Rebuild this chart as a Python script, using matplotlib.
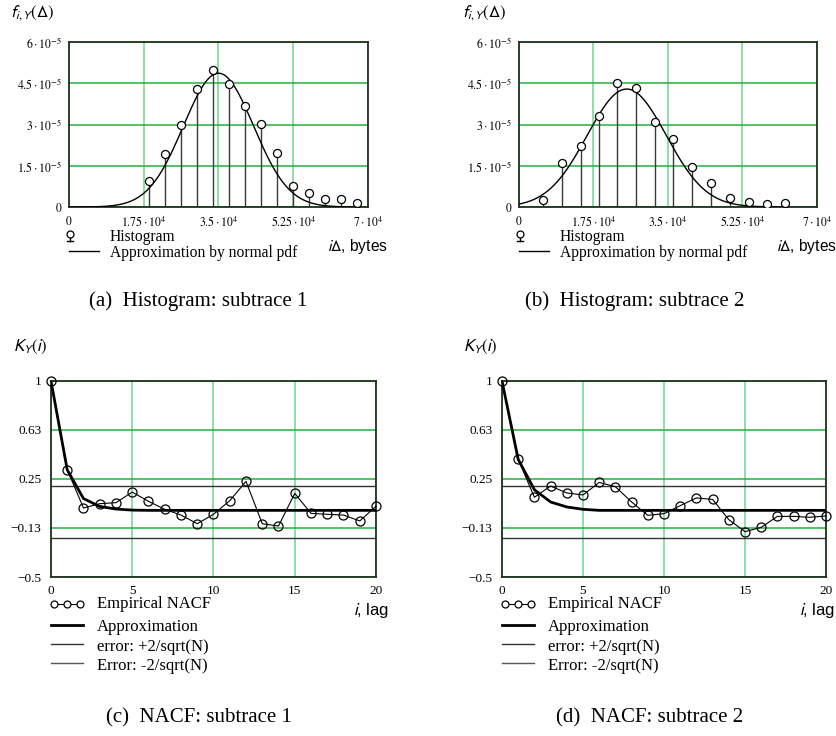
import matplotlib
matplotlib.use("Agg")
import matplotlib.pyplot as plt
from matplotlib.lines import Line2D
import numpy as np

plt.rcParams['mathtext.fontset'] = 'stix'

# --- data ---
hist1_x = [18750, 22500, 26250, 30000, 33750, 37500, 41250, 45000, 48750,
           52500, 56250, 60000, 63750, 67500]
hist1_y = [0.93e-5, 1.94e-5, 2.98e-5, 4.28e-5, 4.99e-5, 4.48e-5, 3.66e-5,
           3.02e-5, 1.98e-5, 0.76e-5, 0.50e-5, 0.29e-5, 0.29e-5, 0.16e-5]
fit1_mu, fit1_sigma = 35000, 8200

hist2_x = [5720, 10110, 14500, 18740, 23120, 27510, 31900, 36290, 40680,
           45070, 49460, 53930, 58160, 62550]
hist2_y = [0.27e-5, 1.60e-5, 2.21e-5, 3.31e-5, 4.50e-5, 4.32e-5, 3.09e-5,
           2.48e-5, 1.45e-5, 0.87e-5, 0.34e-5, 0.19e-5, 0.10e-5, 0.13e-5]
fit2_mu, fit2_sigma = 25300, 9300

lags = list(range(21))
nacf1 = [1.0, 0.321, 0.028, 0.061, 0.069, 0.150, 0.079, 0.018, -0.026, -0.092,
         -0.020, 0.084, 0.232, -0.092, -0.110, 0.140, -0.013, -0.020, -0.026,
         -0.071, 0.041]
approx1 = [1.0, 0.32, 0.10, 0.04, 0.02, 0.012, 0.01, 0.01, 0.01, 0.01, 0.01,
           0.01, 0.01, 0.01, 0.01, 0.01, 0.01, 0.01, 0.01, 0.01, 0.01]
nacf2 = [1.0, 0.401, 0.110, 0.196, 0.143, 0.128, 0.224, 0.191, 0.074, -0.028,
         -0.015, 0.046, 0.105, 0.094, -0.061, -0.153, -0.120, -0.036, -0.036,
         -0.043, -0.033]
approx2 = [1.0, 0.40, 0.168, 0.074, 0.036, 0.018, 0.01, 0.01, 0.01, 0.01, 0.01,
           0.01, 0.01, 0.01, 0.01, 0.01, 0.01, 0.01, 0.01, 0.01, 0.01]
N = 100  # sample size for the error band

hist_xticks = [0, 17500, 35000, 52500, 70000]
hist_xlabels = [r'$0$', r'$1.75\cdot10^{4}$', r'$3.5\cdot10^{4}$',
                r'$5.25\cdot10^{4}$', r'$7\cdot10^{4}$']
hist_yticks = [0, 1.5e-5, 3e-5, 4.5e-5, 6e-5]
hist_ylabels = [r'$0$', r'$1.5\cdot10^{-5}$', r'$3\cdot10^{-5}$',
                r'$4.5\cdot10^{-5}$', r'$6\cdot10^{-5}$']
nacf_xticks = [0, 5, 10, 15, 20]
nacf_yticks = [-0.5, -0.125, 0.25, 0.625, 1.0]
nacf_ylabels = ['\u22120.5', '\u22120.13', '0.25', '0.63', '1']

W, H = 837, 736
fig = plt.figure(figsize=(W / 100, H / 100), dpi=100)

GRID_H = '#22b040'
GRID_V = '#70d48c'
SPINE = '#1e321e'
SERIF = 'Liberation Serif'
SANS = 'Liberation Sans'


def box(l, t, r, b):
    return [l / W, 1 - b / H, (r - l) / W, (b - t) / H]


def ftext(x, y, s, **kw):
    fig.text(x / W, 1 - y / H, s, **kw)


def style(ax):
    ax.set_axisbelow(True)
    ax.xaxis.grid(True, color=GRID_V, lw=1.1)
    ax.yaxis.grid(True, color=GRID_H, lw=1.1)
    for sp in ax.spines.values():
        sp.set_color(SPINE)
        sp.set_linewidth(1.3)
    ax.tick_params(length=0)


def hist_panel(rect, xs, ys, mu, sigma, x_off, lab_x):
    ax = fig.add_axes(box(*rect))
    style(ax)
    ax.vlines(xs, 0, ys, color='#3a3a3a', lw=1.0, zorder=2)
    xx = np.linspace(0, xs[-1], 400)
    pdf = np.exp(-0.5 * ((xx - mu) / sigma) ** 2) / (sigma * np.sqrt(2 * np.pi))
    ax.plot(xx, pdf, color='black', lw=1.0, zorder=3)
    ax.plot(xs, ys, 'o', ms=5.8, mfc='white', mec='black', mew=0.9, zorder=4)
    ax.set_xlim(0, 70000)
    ax.set_ylim(0, 6e-5)
    ax.set_xticks(hist_xticks)
    ax.set_xticklabels(hist_xlabels, fontsize=8.5)
    ax.set_yticks(hist_yticks)
    ax.set_yticklabels(hist_ylabels, fontsize=8.5)
    ax.tick_params(axis='x', pad=6)
    ax.tick_params(axis='y', pad=5)
    # labels and legend
    ftext(x_off + 10, 13, r'$f_{i,Y}(\Delta)$', fontsize=12, math_fontfamily='stixsans',
          va='center', ha='left')
    ftext(lab_x, 247, r'$i\Delta$, bytes', fontsize=11.2, family=SANS,
          math_fontfamily='stixsans', va='center', ha='left')
    mx = rect[0] + 1
    fig.add_artist(Line2D([mx / W, mx / W], [1 - 236 / H, 1 - 241 / H], color='black', lw=1))
    fig.add_artist(Line2D([(mx - 3) / W, (mx + 3) / W], [1 - 241 / H, 1 - 241 / H],
                          color='black', lw=1))
    fig.add_artist(Line2D([mx / W], [1 - 234 / H], marker='o', ms=5, mfc='white',
                          mec='black', mew=0.9))
    ftext(rect[0] + 41, 237, 'Histogram', fontsize=11.2, family=SERIF, va='center')
    fig.add_artist(Line2D([rect[0] / W, (rect[0] + 30) / W], [1 - 251 / H, 1 - 251 / H],
                          color='black', lw=1))
    ftext(rect[0] + 41, 253, 'Approximation by normal pdf', fontsize=11.2, family=SERIF,
          va='center')
    return ax


def nacf_panel(rect, vals, approx, x_off, lab_x):
    ax = fig.add_axes(box(*rect))
    style(ax)
    err = 2 / np.sqrt(N)
    ax.axhline(err, color='#333333', lw=1.0, zorder=2)
    ax.axhline(-err, color='#333333', lw=1.0, zorder=2)
    ax.plot(lags, approx, color='black', lw=2.0, zorder=3)
    ax.plot(lags, vals, '-o', color='black', lw=0.8, ms=6.5, mfc='none',
            mec='black', mew=0.9, zorder=4, clip_on=False)
    ax.set_xlim(0, 20)
    ax.set_ylim(-0.5, 1.0)
    ax.set_xticks(nacf_xticks)
    ax.set_xticklabels([str(t) for t in nacf_xticks], fontsize=9.5, family=SERIF)
    ax.set_yticks(nacf_yticks)
    ax.set_yticklabels(nacf_ylabels, fontsize=9.5, family=SERIF)
    ax.tick_params(axis='x', pad=6)
    ax.tick_params(axis='y', pad=7)
    ftext(x_off + 13, 347, r'$K_Y(i)$', fontsize=12, math_fontfamily='stixsans',
          va='center', ha='left')
    ftext(lab_x, 611, r'$i$, lag', fontsize=12, family=SANS,
          math_fontfamily='stixsans', va='center', ha='left')
    l = rect[0]
    fig.add_artist(Line2D([(l + 3) / W, (l + 16) / W, (l + 29) / W], [1 - 604 / H] * 3,
                          color='black', lw=0.8, marker='o', ms=5, mfc='white',
                          mec='black', mew=0.9))
    fig.add_artist(Line2D([l / W, (l + 32) / W], [1 - 625 / H] * 2, color='black', lw=2))
    fig.add_artist(Line2D([l / W, (l + 32) / W], [1 - 644 / H] * 2, color='#333333', lw=1))
    fig.add_artist(Line2D([l / W, (l + 32) / W], [1 - 663 / H] * 2, color='#555555', lw=1))
    tx = l + 46
    ftext(tx, 604, 'Empirical NACF', fontsize=12, family=SERIF, va='center')
    ftext(tx, 627, 'Approximation', fontsize=12, family=SERIF, va='center')
    ftext(tx, 647, 'error: +2/sqrt(N)', fontsize=12, family=SERIF, va='center')
    ftext(tx, 666, 'Error: -2/sqrt(N)', fontsize=12, family=SERIF, va='center')
    return ax


hist_panel((69, 42, 368, 207), hist1_x, hist1_y, fit1_mu, fit1_sigma, 0, 327)
hist_panel((519, 42, 817, 207), hist2_x, hist2_y, fit2_mu, fit2_sigma, 452, 776)
nacf_panel((51, 381, 376, 577), nacf1, approx1, 0, 353)
nacf_panel((502, 381, 826, 577), nacf2, approx2, 450, 799)

ftext(198, 301, '(a)  Histogram: subtrace 1', fontsize=15, family=SERIF, ha='center', va='center')
ftext(635, 301, '(b)  Histogram: subtrace 2', fontsize=15, family=SERIF, ha='center', va='center')
ftext(199, 718, '(c)  NACF: subtrace 1', fontsize=15, family=SERIF, ha='center', va='center')
ftext(650, 718, '(d)  NACF: subtrace 2', fontsize=15, family=SERIF, ha='center', va='center')

fig.savefig('out.png', dpi=100, facecolor='white')
